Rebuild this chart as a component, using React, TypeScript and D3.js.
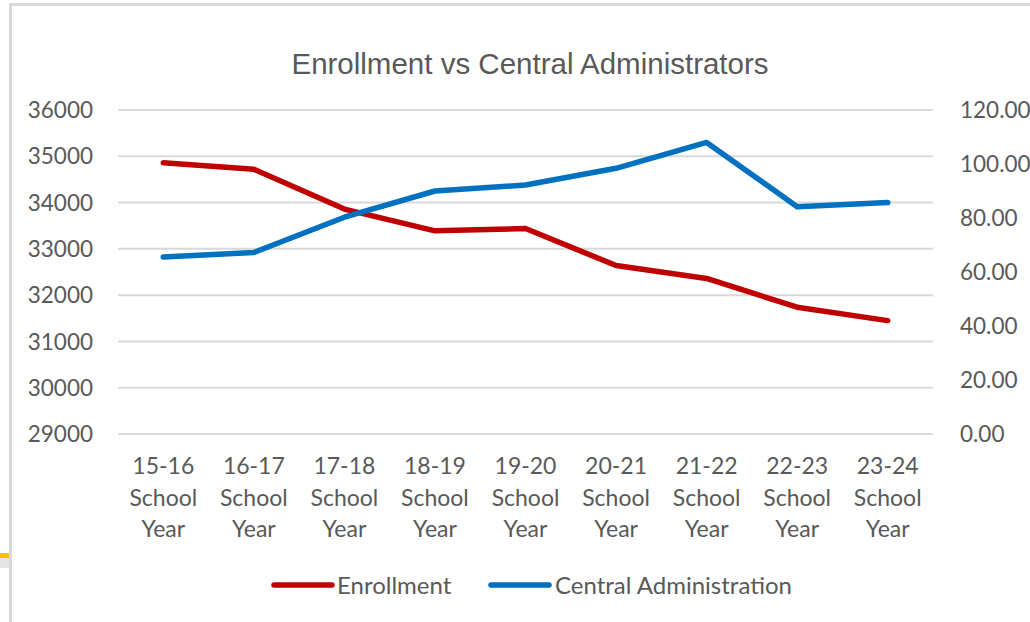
import React from "react";
import * as d3 from "d3";

const categories = [
  "15-16 School Year",
  "16-17 School Year",
  "17-18 School Year",
  "18-19 School Year",
  "19-20 School Year",
  "20-21 School Year",
  "21-22 School Year",
  "22-23 School Year",
  "23-24 School Year",
];
const enrollment = [34860, 34720, 33860, 33390, 33440, 32640, 32360, 31740, 31450];
const centralAdmin = [65.6, 67.2, 80.3, 90.0, 92.2, 98.4, 108.0, 84.2, 85.7];
const leftTicks = [29000, 30000, 31000, 32000, 33000, 34000, 35000, 36000];
const rightTicks = [0, 20, 40, 60, 80, 100, 120];
const seriesNames = ["Enrollment", "Central Administration"];
const title = "Enrollment vs Central Administrators";

const W = 1030;
const H = 622;
const plotLeft = 118;
const plotRight = 933;
const plotTop = 110;
const plotBottom = 434;

const RED = "#c00000";
const BLUE = "#0070c0";
const TEXT = "#595959";
const GRID = "#d9d9d9";
const FONT = "Lato, 'Open Sans', sans-serif";

export default function App() {
  const x = d3.scaleBand<string>().domain(categories).range([plotLeft, plotRight]);
  const cx = (c: string) => (x(c) ?? 0) + x.bandwidth() / 2;
  const yL = d3.scaleLinear().domain([29000, 36000]).range([plotBottom, plotTop]);
  const yR = d3.scaleLinear().domain([0, 120]).range([plotBottom, plotTop]);

  const lineL = d3
    .line<number>()
    .x((_, i) => cx(categories[i]))
    .y((d) => yL(d));
  const lineR = d3
    .line<number>()
    .x((_, i) => cx(categories[i]))
    .y((d) => yR(d));

  const legendY = 585;

  return (
    <svg
      width={W}
      height={H}
      style={{ position: "absolute", left: 0, top: 0, background: "#fff" }}
    >
      <rect x={0} y={0} width={W} height={H} fill="#fff" />
      {/* frame */}
      <rect x={9} y={3} width={W - 9} height={3} fill="#d9d9d9" />
      <rect x={9} y={3} width={3} height={H - 3} fill="#d9d9d9" />
      <rect x={0} y={553} width={9} height={5} fill="#ffc000" />
      <rect x={0} y={558} width={9} height={10} fill="#e6e6e6" />

      <text
        x={530}
        y={74}
        textAnchor="middle"
        fontFamily="'Liberation Sans', Arial, sans-serif"
        fontSize={29.5}
        fill={TEXT}
      >
        {title}
      </text>

      {leftTicks.map((t) => (
        <line
          key={"g" + t}
          x1={plotLeft}
          x2={plotRight}
          y1={yL(t)}
          y2={yL(t)}
          stroke={GRID}
          strokeWidth={2}
        />
      ))}

      {leftTicks.map((t) => (
        <text
          key={"l" + t}
          x={93}
          y={yL(t)}
          dy="0.36em"
          textAnchor="end"
          fontFamily={FONT}
          fontSize={22.5}
          fill={TEXT}
        >
          {t}
        </text>
      ))}
      {rightTicks.map((t) => (
        <text
          key={"r" + t}
          x={960}
          y={yR(t)}
          dy="0.36em"
          textAnchor="start"
          fontFamily={FONT}
          fontSize={22.5}
          fill={TEXT}
        >
          {t.toFixed(2)}
        </text>
      ))}

      {categories.map((c) => {
        const parts = c.split(" ");
        const lines = [parts[0], parts[1], parts[2]];
        return (
          <text
            key={c}
            x={cx(c)}
            textAnchor="middle"
            fontFamily={FONT}
            fontSize={23}
            fill={TEXT}
          >
            {lines.map((l, i) => (
              <tspan key={i} x={cx(c)} y={466 + i * 31.5} dy="0.36em">
                {l}
              </tspan>
            ))}
          </text>
        );
      })}

      <path
        d={lineL(enrollment) ?? ""}
        fill="none"
        stroke={RED}
        strokeWidth={5.5}
        strokeLinejoin="round"
        strokeLinecap="round"
      />
      <path
        d={lineR(centralAdmin) ?? ""}
        fill="none"
        stroke={BLUE}
        strokeWidth={5.5}
        strokeLinejoin="round"
        strokeLinecap="round"
      />

      {/* legend */}
      <line x1={274} x2={332} y1={legendY} y2={legendY} stroke={RED} strokeWidth={5.5} strokeLinecap="round" />
      <text x={337} y={legendY} dy="0.36em" fontFamily={FONT} fontSize={24} fill={TEXT}>
        {seriesNames[0]}
      </text>
      <line x1={491} x2={549} y1={legendY} y2={legendY} stroke={BLUE} strokeWidth={5.5} strokeLinecap="round" />
      <text x={555} y={legendY} dy="0.36em" fontFamily={FONT} fontSize={24} fill={TEXT}>
        {seriesNames[1]}
      </text>
    </svg>
  );
}
